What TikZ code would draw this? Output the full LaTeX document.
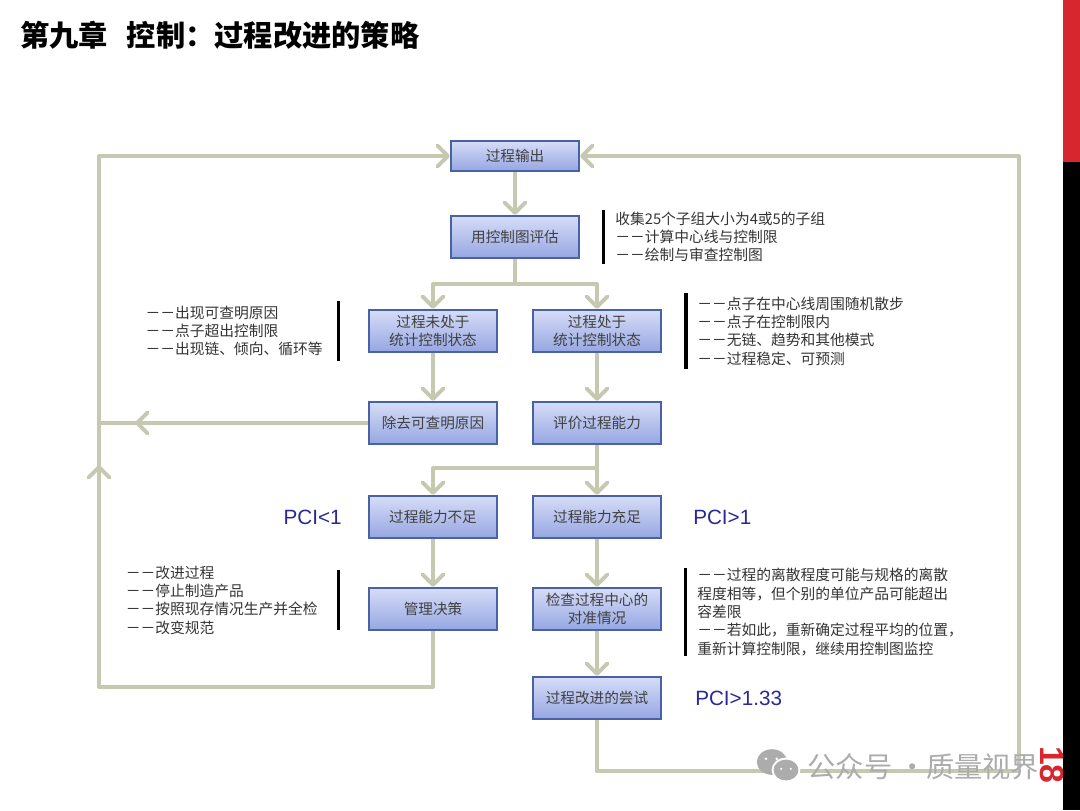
\documentclass[tikz,border=0pt]{standalone}
\usepackage{xcolor}
\usepackage{fontspec}
\usepackage{tikz}
\usetikzlibrary{arrows.meta, positioning, calc}
\setmainfont{Noto Sans CJK SC}
\newfontfamily\pcifont{Liberation Sans}
\definecolor{pcflow}{RGB}{198,200,176}
\definecolor{pcedge}{RGB}{72,98,165}
\definecolor{pctop}{RGB}{214,221,247}
\definecolor{pcbottom}{RGB}{150,166,226}
\definecolor{pcnavy}{RGB}{40,40,150}
\definecolor{pcred}{RGB}{216,38,46}
\definecolor{pcmark}{RGB}{172,172,172}

\begin{document}
\begin{tikzpicture}[
  stepbox/.style={rectangle, draw=pcedge, line width=1.2pt, outer sep=0pt, top color=pctop, bottom color=pcbottom, text=black!75, minimum width=3.2cm, minimum height=1.05cm, inner sep=0pt, align=center, font=\fontsize{10.4}{12.8}\selectfont},
  note/.style={inner sep=0pt, align=left, text=black!80, font=\fontsize{10.5}{13}\selectfont},
  notebar/.style={rectangle, fill=black, inner sep=0pt, minimum width=0.085cm},
  pci/.style={inner sep=0pt, text=pcnavy, font=\pcifont\fontsize{14.7}{16}\selectfont},
  flow/.style={draw=pcflow, line width=2.8pt, line join=round, shorten <=0.6pt},
  arr/.style={flow, shorten >=0.8pt, -{Straight Barb[length=2.6mm, width=5.2mm, round]}}
]
\useasboundingbox (0,0) rectangle (27,-20.25);
% title
\node[anchor=west, inner sep=0pt, font=\bfseries\fontsize{20.8}{24}\selectfont] (title) at (0.5,-0.875) {第九章\hspace{0.65em}控制：过程改进的策略};
% main boxes
\node[stepbox, minimum height=0.75cm] (out) at (12.875,-3.9) {过程输出};
\node[stepbox, below=1.125cm of out] (eval) {用控制图评估};
\node[stepbox, below=1.3cm of eval, xshift=-2.05cm] (unstable) {过程未处于\\统计控制状态};
\node[stepbox, below=1.3cm of eval, xshift=2.05cm] (stable) {过程处于\\统计控制状态};
\node[stepbox, below=1.25cm of unstable] (remove) {除去可查明原因};
\node[stepbox, below=1.25cm of stable] (ability) {评价过程能力};
\node[stepbox, below=1.3cm of remove] (short) {过程能力不足};
\node[stepbox, below=1.3cm of ability] (enough) {过程能力充足};
\node[stepbox, below=1.25cm of short] (decide) {管理决策};
\node[stepbox, below=1.25cm of enough] (center) {检查过程中心的\\对准情况};
\node[stepbox, below=1.175cm of center] (trial) {过程改进的尝试};
% notes and bars
\node[note, right=0.9cm of eval] (noteEval) {收集25个子组大小为4或5的子组\\－－计算中心线与控制限\\－－绘制与审查控制图};
\node[notebar, minimum height=1.35cm, right=0.56cm of eval] (barEval) {};
\node[note, left=1.15cm of unstable] (noteUnstable) {－－出现可查明原因\\－－点子超出控制限\\－－出现链、倾向、循环等};
\node[notebar, minimum height=1.5cm, left=0.71cm of unstable] (barUnstable) {};
\node[note, right=0.9cm of stable] (noteStable) {－－点子在中心线周围随机散步\\－－点子在控制限内\\－－无链、趋势和其他模式\\－－过程稳定、可预测};
\node[notebar, minimum height=1.9cm, right=0.58cm of stable] (barStable) {};
\node[note, left=1.275cm of decide, yshift=0.225cm] (noteDecide) {－－改进过程\\－－停止制造产品\\－－按照现存情况生产并全检\\－－改变规范};
\node[notebar, minimum height=1.5cm, left=0.71cm of decide, yshift=0.225cm] (barDecide) {};
\node[note, right=0.9cm of center, yshift=-0.075cm] (noteCenter) {－－过程的离散程度可能与规格的离散\\程度相等，但个别的单位产品可能超出\\容差限\\－－若如此，重新确定过程平均的位置，\\重新计算控制限，继续用控制图监控};
\node[notebar, minimum height=2.2cm, right=0.56cm of center, yshift=-0.075cm] (barCenter) {};
% PCI labels
\node[pci, left=0.675cm of short] (pciShort) {PCI<1};
\node[pci, right=0.8cm of enough] (pciEnough) {PCI>1};
\node[pci, right=0.85cm of trial] (pciTrial) {PCI>1.33};
% free points of the connectors
\coordinate (splitEval) at ($(eval.south)+(0,-0.65)$);
\coordinate (splitAbility) at ($(ability.south)+(0,-0.6)$);
\coordinate (cornerSW) at (2.475,-17.175);
\coordinate (tipUp) at (2.475,-11.6);
\coordinate (cornerNW) at (cornerSW |- out.west);
\coordinate (railJoin) at (cornerSW |- remove.west);
\coordinate (tipLeft) at ($(railJoin)+(0.875,0)$);
\coordinate (cornerSE) at (25.475,-19.275);
\coordinate (cornerNE) at (cornerSE |- out.east);
% connectors
\draw[arr] (out) -- (eval);
\draw[arr] (eval.south) -- (splitEval) -| (unstable.north);
\draw[arr] (splitEval) -| (stable.north);
\draw[arr] (unstable) -- (remove);
\draw[arr] (stable) -- (ability);
\draw[arr] (ability.south) -- (splitAbility) -| (short.north);
\draw[arr] (splitAbility) -- (enough.north);
\draw[arr] (short) -- (decide);
\draw[arr] (enough) -- (center);
\draw[arr] (center) -- (trial);
\draw[flow] (remove.west) -- (railJoin);
\draw[arr] (remove.west) -- (tipLeft);
\draw[arr] (decide.south) |- (cornerSW) -- (tipUp);
\draw[arr] (cornerSW) -- (cornerNW) -- (out.west);
\draw[arr] (trial.south) |- (cornerSE) -- (cornerNE) -- (out.east);
% page number and side band
\node[rotate=-90, inner sep=0pt, text=pcred, font=\pcifont\bfseries\fontsize{24}{26}\selectfont] (page) at (26.3,-19.12) {18};
\fill[pcred] (26.575,0) rectangle (27,-4.05);
\fill[black] (26.575,-4.05) rectangle (27,-20.25);
% watermark
\fill[pcmark] (19.3,-19.05) ellipse (0.38cm and 0.32cm);
\fill[white] (19.65,-19.25) ellipse (0.36cm and 0.31cm);
\fill[pcmark] (19.65,-19.25) ellipse (0.31cm and 0.26cm);
\fill[white] (19.15,-18.97) circle (0.035cm) (19.42,-18.97) circle (0.035cm) (19.53,-19.22) circle (0.03cm) (19.77,-19.22) circle (0.03cm);
\node[anchor=west, inner sep=0pt, text=pcmark, font=\fontsize{20.1}{22}\selectfont] (mark) at (20.18,-19.17) {公众号 ·\hspace{-0.25em} 质量视界};
\end{tikzpicture}
\end{document}
